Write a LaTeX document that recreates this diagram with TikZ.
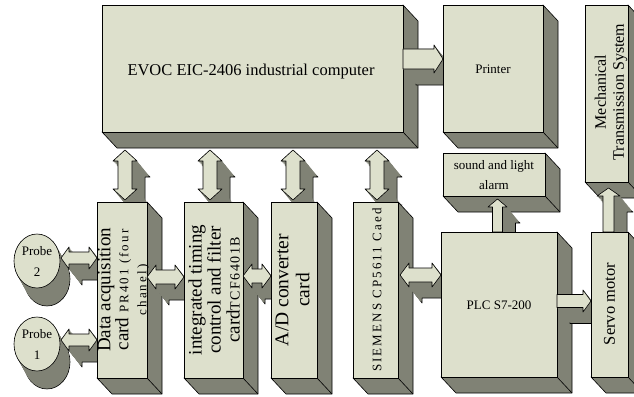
\documentclass[tikz,border=0pt]{standalone}
\usepackage{fontspec}
\setmainfont{Liberation Serif}
\newfontfamily\spacedA[LetterSpace=16]{Liberation Serif}
\newfontfamily\spacedB[LetterSpace=10]{Liberation Serif}
\usetikzlibrary{shapes.geometric}
\definecolor{boxlight}{RGB}{221,224,204}
\definecolor{boxdark}{RGB}{128,130,117}
\tikzset{
  frontface/.style={draw=black, fill=boxlight, line width=0.6pt, inner sep=0pt, anchor=north west},
  sideface/.style={draw=black, fill=boxdark, line width=0.6pt, line join=round},
  lbl/.style={align=center, inner sep=0pt},
  vlbl/.style={lbl, rotate=90},
}
% 3D box: name x1 y1 x2 y2
\newcommand{\tdbox}[5]{%
  \filldraw[sideface] (#4,#3) -- ({#4+15},{#3+16}) -- ({#4+15},{#5+16}) -- ({#2+15},{#5+16}) -- (#2,#5) -- (#4,#5) -- cycle;
  \draw[line width=0.6pt] (#4,#5) -- ({#4+15},{#5+16});
  \node[frontface, minimum width={(#4-#2)*1pt}, minimum height={(#5-#3)*1pt}] (#1) at (#2,#3) {};
}
% extruded block arrow
\newcommand{\threed}[1]{%
  \filldraw[fill=boxdark, draw=black, line width=0.6pt, line join=round, shift={(13,16)}] #1;
  \foreach \k in {0,...,19} {\fill[boxdark, shift={({13*\k/20},{16*\k/20})}] #1;}
  \filldraw[fill=boxlight, draw=black, line width=0.6pt, line join=round] #1;
}
\newcommand{\hdarrow}[6]{\threed{({#1},{#3}) -- ({#1+#6},{#3-#4}) -- ({#1+#6},{#3-#5}) -- ({#2-#6},{#3-#5}) -- ({#2-#6},{#3-#4}) -- ({#2},{#3}) -- ({#2-#6},{#3+#4}) -- ({#2-#6},{#3+#5}) -- ({#1+#6},{#3+#5}) -- ({#1+#6},{#3+#4}) -- cycle}}
\newcommand{\vdarrow}[6]{\threed{({#1},{#2}) -- ({#1+#4},{#2+#6}) -- ({#1+#5},{#2+#6}) -- ({#1+#5},{#3-#6}) -- ({#1+#4},{#3-#6}) -- ({#1},{#3}) -- ({#1-#4},{#3-#6}) -- ({#1-#5},{#3-#6}) -- ({#1-#5},{#2+#6}) -- ({#1-#4},{#2+#6}) -- cycle}}
\newcommand{\rarrow}[6]{\threed{({#1},{#3-#5}) -- ({#2-#6},{#3-#5}) -- ({#2-#6},{#3-#4}) -- ({#2},{#3}) -- ({#2-#6},{#3+#4}) -- ({#2-#6},{#3+#5}) -- ({#1},{#3+#5}) -- cycle}}
\newcommand{\uarrow}[6]{\threed{({#1-#5},{#3}) -- ({#1-#5},{#2+#6}) -- ({#1-#4},{#2+#6}) -- ({#1},{#2}) -- ({#1+#4},{#2+#6}) -- ({#1+#5},{#2+#6}) -- ({#1+#5},{#3}) -- cycle}}
% probe cylinder: name cx cy number
\newcommand{\probe}[4]{%
  \filldraw[fill=boxdark, draw=black, line width=0.6pt] ({#2+10},{#3+18}) ellipse [x radius=23pt, y radius=27pt];
  \foreach \k in {0,...,19} {\fill[boxdark] ({#2+10*\k/20},{#3+18*\k/20}) ellipse [x radius=23pt, y radius=27pt];}
  \node[draw=black, fill=boxlight, ellipse, minimum width=46pt, minimum height=54pt, inner sep=0pt,
        line width=0.6pt, align=center, font=\fontsize{13}{21}\selectfont] (#1) at (#2,#3) {Probe\\#4};
}
\begin{document}
\begin{tikzpicture}[x=1pt, y=-1pt]
\useasboundingbox (0,0) rectangle (634,396);

% computer and its links
\tdbox{comp}{102}{5}{403}{132}
\node[lbl, font=\fontsize{16.5}{20}\selectfont] (comptxt) at (251,72) {EVOC EIC-2406 industrial computer};
\vdarrow{125}{150}{200}{12}{7}{11}
\vdarrow{210}{150}{200}{12}{7}{11}
\vdarrow{293}{150}{200}{12}{7}{11}
\vdarrow{377}{150}{200}{12}{7}{11}
\rarrow{403}{443}{59}{14}{10}{9}

% printer
\tdbox{printer}{443}{5}{543}{132}
\node[lbl, font=\fontsize{13}{15}\selectfont] (printertxt) at (493,69) {Printer};

% alarm
\tdbox{alarm}{443}{153}{545}{196}
\node[lbl, font=\fontsize{13}{20}\selectfont] (alarmtxt) at (494,175) {sound and light\\alarm};
\uarrow{497.5}{199}{232}{9.5}{5}{8}

% mechanical transmission
\tdbox{mech}{585}{5}{628}{182}
\node[vlbl, font=\fontsize{16}{18}\selectfont] (mechtxt) at (611,92) {Mechanical\\Transmission System};
\uarrow{608.5}{188}{232}{11.5}{5.5}{8}

% probes
\probe{probetwo}{37}{261}{2}
\probe{probeone}{37}{344}{1}
\hdarrow{61}{97}{258}{11}{6}{8}
\hdarrow{61}{97}{340}{11}{6}{8}

% data acquisition card
\tdbox{daq}{97}{202}{147}{378}
\node[vlbl, font=\fontsize{19}{18}\selectfont] (daqtxt) at (123.5,290)
  {Data acquisition\\card {\fontsize{13}{18}\selectfont\spacedA PR401 (four}\\{\fontsize{13}{18}\selectfont\spacedA chanel)}};
\hdarrow{147}{184}{277}{12}{7}{9}

% timing and filter card
\tdbox{itc}{184}{202}{243}{378}
\node[vlbl, font=\fontsize{19}{19}\selectfont] (itctxt) at (214,290)
  {integrated timing\\control and filter\\card{\fontsize{14}{19}\selectfont\spacedB TCF6401B}};
\hdarrow{243}{271}{276}{12}{7}{9}

% A/D card
\tdbox{adc}{271}{202}{317}{378}
\node[vlbl, font=\fontsize{19.5}{21}\selectfont] (adctxt) at (292.5,290) {A/D converter\\card};

% Siemens card
\tdbox{cp}{353}{202}{398}{378}
\node[vlbl, font=\fontsize{13}{15}\selectfont\spacedA] (cptxt) at (377,290) {SIEMENS CP5611 Caed};
\hdarrow{400}{441}{275}{12}{7}{9}

% PLC
\tdbox{plc}{441}{232}{557}{377}
\node[lbl, font=\fontsize{13}{15}\selectfont] (plctxt) at (499,305) {PLC S7-200};
\rarrow{557}{591}{301}{11}{6.5}{8}

% servo motor
\tdbox{servo}{591}{232}{628}{377}
\node[vlbl, font=\fontsize{16.5}{18}\selectfont] (servotxt) at (609.5,304) {Servo motor};
\end{tikzpicture}
\end{document}
